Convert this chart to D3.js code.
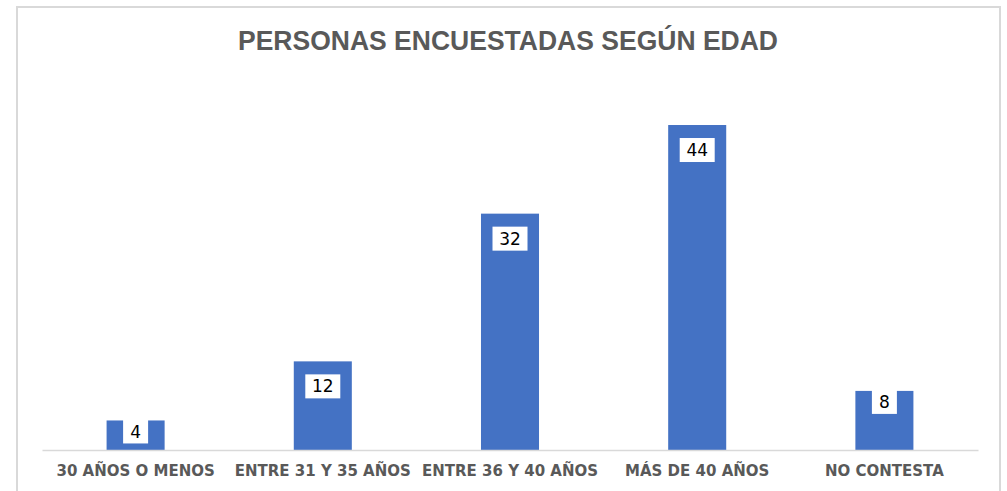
<!DOCTYPE html>
<html><head><meta charset="utf-8">
<script src="https://cdn.jsdelivr.net/npm/d3@7"></script>
<style>html,body{margin:0;padding:0;background:#fff;}svg{display:block;}</style>
</head><body>
<svg id="c" width="1007" height="491"></svg>
<script>
const title = "PERSONAS ENCUESTADAS SEGÚN EDAD";
const categories = ["30 AÑOS O MENOS","ENTRE 31 Y 35 AÑOS","ENTRE 36 Y 40 AÑOS","MÁS DE 40 AÑOS","NO CONTESTA"];
const values = [4,12,32,44,8];

const svg = d3.select("#c");
// frame
svg.append("rect").attr("x",17).attr("y",7).attr("width",983).attr("height",500)
  .attr("fill","#fff").attr("stroke","#d9d9d9").attr("stroke-width",2);

const x = d3.scaleBand().domain(categories).range([42,978]).paddingInner(0.69).paddingOuter(0.345);
const y = d3.scaleLinear().domain([0,50]).range([450,80.7]);

svg.append("text").attr("x",508).attr("y",50).attr("text-anchor","middle")
  .attr("font-family","'Liberation Sans',Arial,sans-serif")
  .attr("font-weight","bold").attr("font-size",27).attr("fill","#595959")
  .attr("textLength",540).attr("lengthAdjust","spacingAndGlyphs").text(title);

svg.selectAll("rect.bar").data(values).join("rect").attr("class","bar")
  .attr("x",(d,i)=>x(categories[i])).attr("width",x.bandwidth())
  .attr("y",d=>y(d)).attr("height",d=>y(0)-y(d)).attr("fill","#4472C4");

// axis
const ax = svg.append("g").attr("transform","translate(0,450)").call(d3.axisBottom(x).tickSize(0).tickPadding(15));
ax.select(".domain").attr("stroke","#d9d9d9").attr("stroke-width",1.5);
ax.selectAll("text").attr("font-family","'DejaVu Sans',Verdana,sans-serif").attr("font-weight","bold")
  .attr("font-size",15).attr("fill","#595959");

// labels
const lg = svg.selectAll("g.lab").data(values).join("g").attr("class","lab")
  .attr("transform",(d,i)=>{
    const h = y(0)-y(d);
    const cy = y(d) + (h < 70 ? 11 : 25);
    return `translate(${x(categories[i])+x.bandwidth()/2},${cy})`;
  });
lg.append("rect").attr("x",d=>String(d).length>1?-17.5:-12.5).attr("width",d=>String(d).length>1?35:25)
  .attr("y",-12).attr("height",24).attr("fill","#fff");
lg.append("text").attr("text-anchor","middle").attr("dy","0.36em")
  .attr("font-family","'DejaVu Sans',Verdana,sans-serif").attr("font-size",17).attr("fill","#000").text(d=>d);
</script>
</body></html>
